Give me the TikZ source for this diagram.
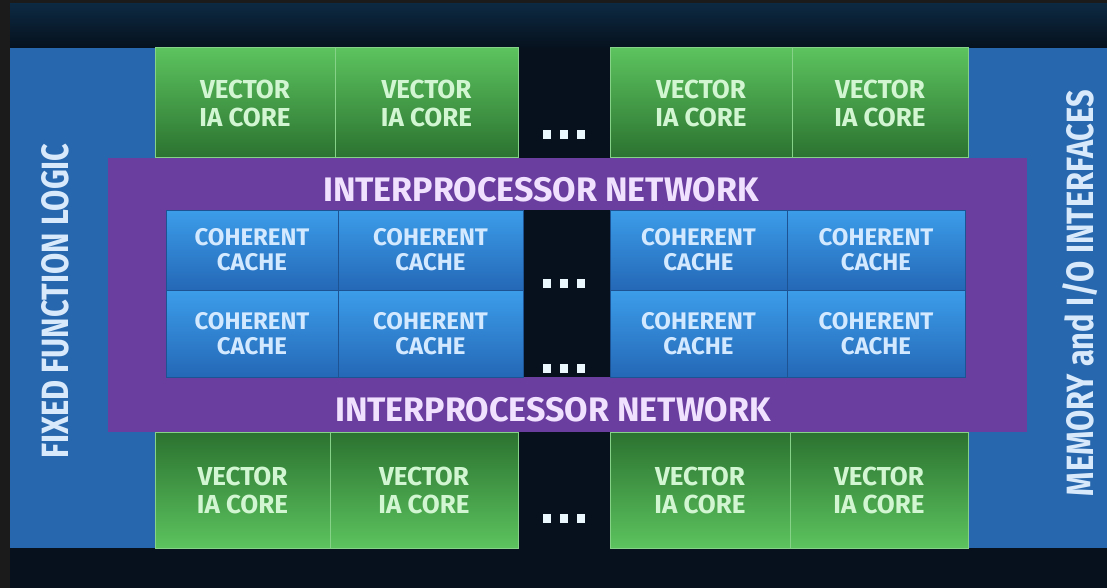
\documentclass[tikz,border=0pt]{standalone}
\usepackage{fontspec}
\usepackage{xcolor}
\setmainfont{Fira Sans}
\newfontfamily\barfont[FakeStretch=0.81]{Fira Sans}

\definecolor{frame}{HTML}{1B1B1B}
\definecolor{navy}{HTML}{06111D}
\definecolor{navytop}{HTML}{0C2942}
\definecolor{chipblue}{HTML}{2767AD}
\definecolor{greenhi}{HTML}{5CC35E}
\definecolor{greenlo}{HTML}{2B7230}
\definecolor{corelite}{HTML}{86D288}
\definecolor{coretxt}{HTML}{D2F5D2}
\definecolor{purplenet}{HTML}{6A3E9F}
\definecolor{nettxt}{HTML}{F0E2FF}
\definecolor{cachehi}{HTML}{3C9DE9}
\definecolor{cachelo}{HTML}{2468B7}
\definecolor{cachetxt}{HTML}{D3E9FF}
\definecolor{bartxt}{HTML}{D8E9FB}

\begin{document}
\begin{tikzpicture}[x=1pt,y=-1pt,
    box/.style={inner sep=0pt, outer sep=0pt, anchor=north west, align=center},
    core/.style={box, draw=corelite, line width=1pt, minimum width=#1, minimum height=110pt,
        top color=greenhi, bottom color=greenlo, text=coretxt,
        font=\bfseries\fontsize{26}{28}\selectfont},
    lowcore/.style={core=#1, minimum height=116pt, top color=greenlo, bottom color=greenhi},
    cache/.style={box, draw=cachelo!80!black, line width=0.6pt, minimum width=#1, minimum height=80pt,
        top color=cachehi, bottom color=cachelo, text=cachetxt,
        font=\bfseries\fontsize{24}{25}\selectfont},
    lowcache/.style={cache=#1, minimum height=87pt},
    netlabel/.style={text=nettxt, font=\bfseries\fontsize{34}{38}\selectfont},
    barlabel/.style={rotate=90, text=bartxt, font=\barfont\bfseries\fontsize{38}{40}\selectfont}]

    \useasboundingbox (0,0) rectangle (1107,588);
    % background and side bars
    \fill[frame] (0,0) rectangle (1107,588);
    \fill[top color=navytop, bottom color=navy] (10,4) rectangle (1107,48);
    \fill[navy] (10,48) rectangle (1107,588);
    \node[box, fill=chipblue, minimum width=145pt, minimum height=500pt] (fixed) at (10,48) {};
    \node[box, fill=chipblue, minimum width=139pt, minimum height=500pt] (memio) at (968,48) {};

    % vector cores, top row
    \node[core=180pt] (ct1) at (155,48) {VECTOR\\IA CORE};
    \node[core=183pt] (ct2) at (335,48) {VECTOR\\IA CORE};
    \node[core=182pt] (ct3) at (610,48) {VECTOR\\IA CORE};
    \node[core=176pt] (ct4) at (792,48) {VECTOR\\IA CORE};

    % vector cores, bottom row
    \node[lowcore=175pt] (cb1) at (155,432) {VECTOR\\IA CORE};
    \node[lowcore=188pt] (cb2) at (330,432) {VECTOR\\IA CORE};
    \node[lowcore=180pt] (cb3) at (610,432) {VECTOR\\IA CORE};
    \node[lowcore=178pt] (cb4) at (790,432) {VECTOR\\IA CORE};

    % interprocessor network ring
    \node[box, fill=purplenet, minimum width=919pt, minimum height=274pt] (net) at (108,158) {};
    \node[box, fill=navy, minimum width=87pt, minimum height=167pt] (gap) at (523,210) {};

    % coherent caches
    \node[cache=172pt] (ca1) at (166,210) {COHERENT\\CACHE};
    \node[cache=185pt] (ca2) at (338,210) {COHERENT\\CACHE};
    \node[cache=177pt] (ca3) at (610,210) {COHERENT\\CACHE};
    \node[cache=178pt] (ca4) at (787,210) {COHERENT\\CACHE};
    \node[lowcache=172pt] (cc1) at (166,290) {COHERENT\\CACHE};
    \node[lowcache=185pt] (cc2) at (338,290) {COHERENT\\CACHE};
    \node[lowcache=177pt] (cc3) at (610,290) {COHERENT\\CACHE};
    \node[lowcache=178pt] (cc4) at (787,290) {COHERENT\\CACHE};

    \node[netlabel] (nettop) at (541,190) {INTERPROCESSOR NETWORK};
    \node[netlabel] (netbot) at (553,410) {INTERPROCESSOR NETWORK};

    % ellipsis dots
    \foreach \y in {135,283,368,518}
        \foreach \x in {547,564,581}
            \fill[white!92!cyan] (\x-4,\y-4.5) rectangle +(8,9);

    \node[barlabel] (fixedtxt) at (55,301) {FIXED FUNCTION LOGIC};
    \node[barlabel] (memiotxt) at (1080,293) {MEMORY and I/O INTERFACES};
\end{tikzpicture}
\end{document}
